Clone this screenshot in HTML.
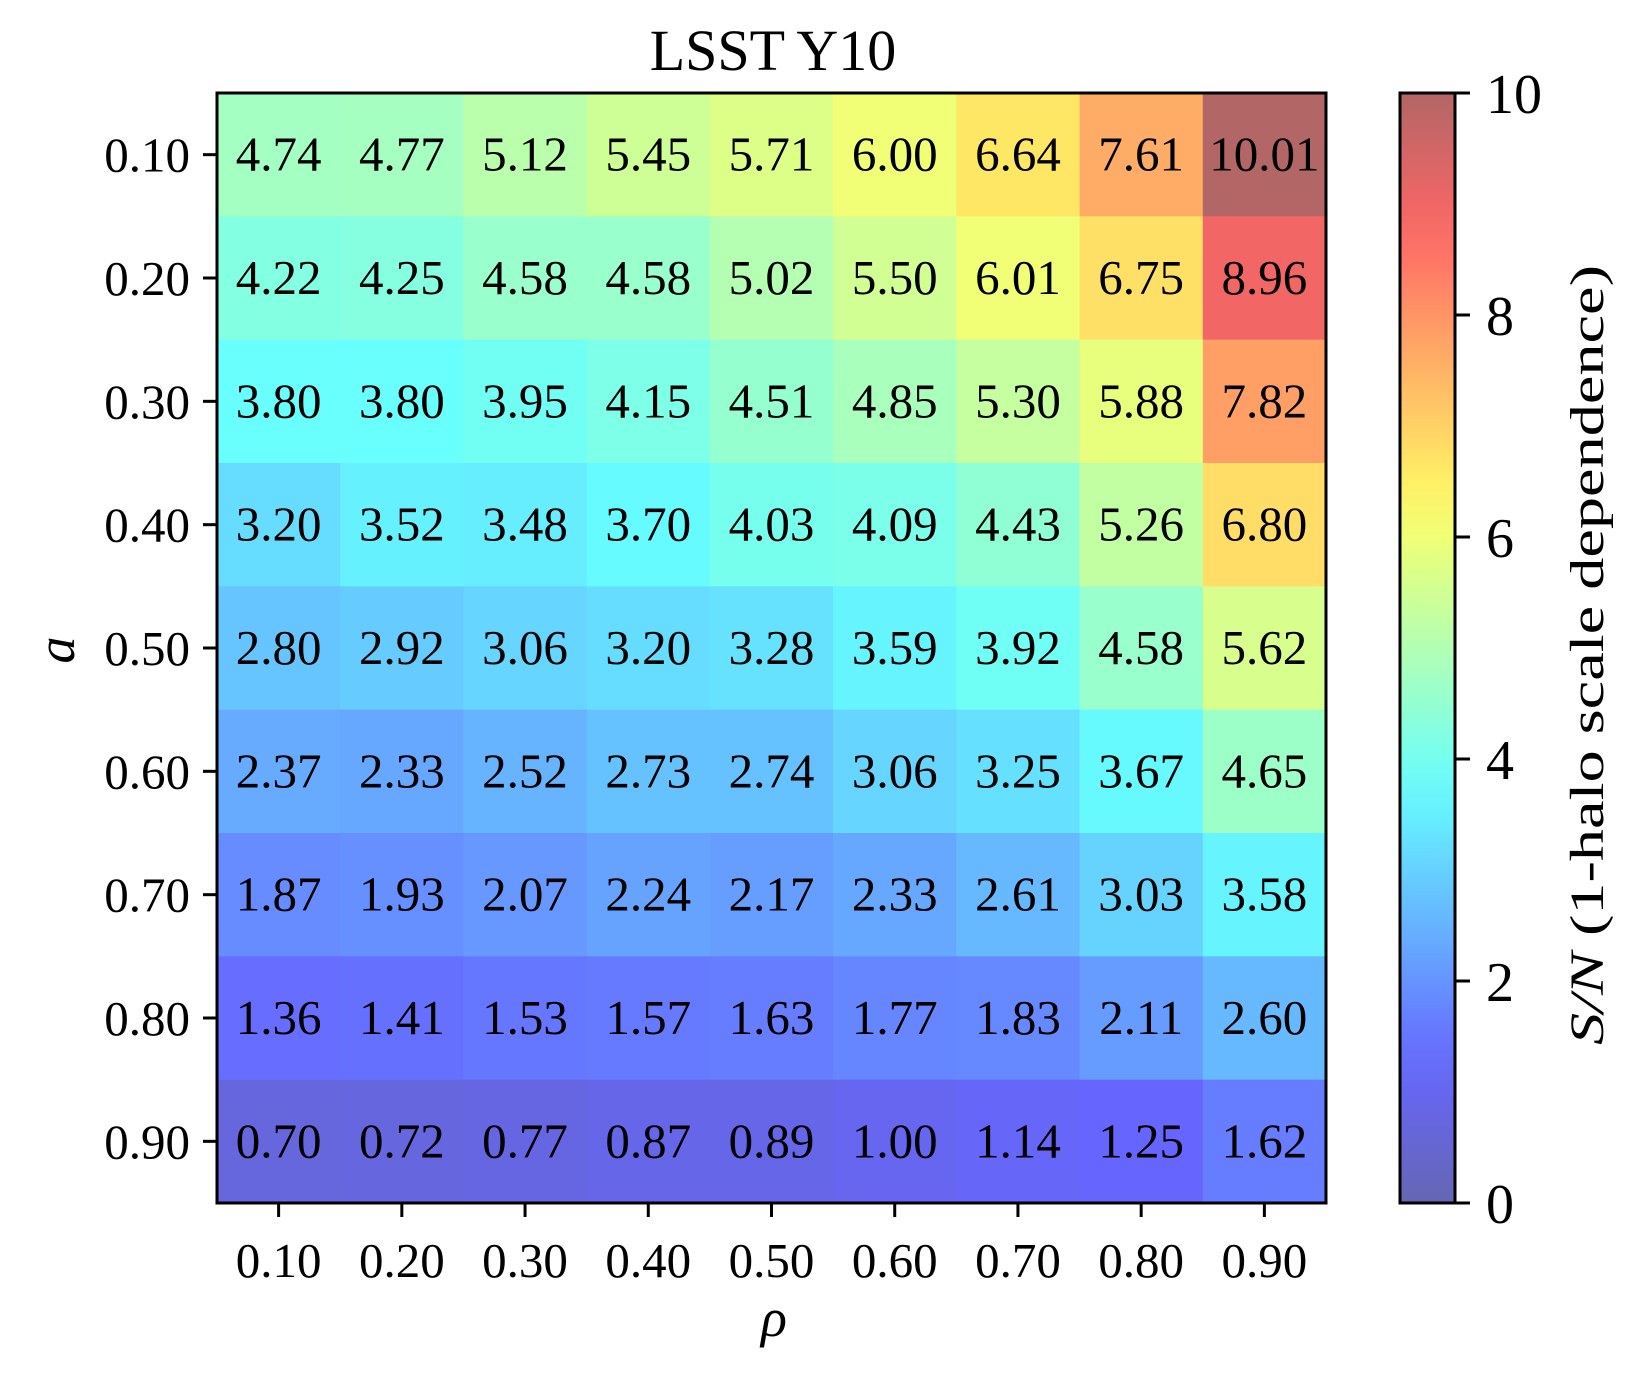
<!DOCTYPE html>
<html><head><meta charset="utf-8"><style>
html,body{margin:0;padding:0;background:#fff;}
svg text{font-family:"Liberation Serif","DejaVu Serif",serif;fill:#000;}
</style></head><body>
<svg id="chart" width="1652" height="1376" viewBox="0 0 1652 1376" xmlns="http://www.w3.org/2000/svg">
<defs><linearGradient id="cbgrad" x1="0" y1="1" x2="0" y2="0"></linearGradient></defs>
<text x="773" y="70" font-size="58" text-anchor="middle">LSST Y10</text>
<g id="cells"></g>
<g id="labels"></g>
<rect x="217" y="93" width="1109" height="1110" fill="none" stroke="#000" stroke-width="3"/>
<g id="axes"></g>
<text x="74" y="650" font-size="54" font-style="italic" text-anchor="middle" transform="rotate(-90 74 650)">a</text>
<text x="774" y="1336" font-size="54" font-style="italic" text-anchor="middle">ρ</text>
<rect x="1400" y="93" width="55" height="1110" fill="url(#cbgrad)" stroke="#000" stroke-width="3"/>
<g id="cbaxis"></g>
<text x="1603" y="655" font-size="48" text-anchor="middle" textLength="780" lengthAdjust="spacingAndGlyphs" transform="rotate(-90 1603 655)"><tspan font-style="italic">S/N</tspan> (1-halo scale dependence)</text>
</svg>
<script>
const rhoLabels = ["0.10","0.20","0.30","0.40","0.50","0.60","0.70","0.80","0.90"];
const aLabels = ["0.10","0.20","0.30","0.40","0.50","0.60","0.70","0.80","0.90"];
const row010 = [4.74,4.77,5.12,5.45,5.71,6.00,6.64,7.61,10.01];
const row020 = [4.22,4.25,4.58,4.58,5.02,5.50,6.01,6.75,8.96];
const row030 = [3.80,3.80,3.95,4.15,4.51,4.85,5.30,5.88,7.82];
const row040 = [3.20,3.52,3.48,3.70,4.03,4.09,4.43,5.26,6.80];
const row050 = [2.80,2.92,3.06,3.20,3.28,3.59,3.92,4.58,5.62];
const row060 = [2.37,2.33,2.52,2.73,2.74,3.06,3.25,3.67,4.65];
const row070 = [1.87,1.93,2.07,2.24,2.17,2.33,2.61,3.03,3.58];
const row080 = [1.36,1.41,1.53,1.57,1.63,1.77,1.83,2.11,2.60];
const row090 = [0.70,0.72,0.77,0.87,0.89,1.00,1.14,1.25,1.62];
const cbTicks = [0,2,4,6,8,10];
const rows = [row010,row020,row030,row040,row050,row060,row070,row080,row090];
const vmin = 0, vmax = 10;
const L=217,T=93,W=1109,H=1110;
const nx=rhoLabels.length, ny=aLabels.length, cw=W/nx, ch=H/ny;
const xPos=i=>L+cw*(i+0.5), yPos=j=>T+ch*(j+0.5);
const cbY=v=>T+H-(v-vmin)/(vmax-vmin)*H;
const NS="http://www.w3.org/2000/svg";
function jet(t){t=Math.max(0,Math.min(1,t));
 const f=(x)=>Math.max(0,Math.min(1,x));
 const r=f(1.5-Math.abs(4*t-3)), g=f(1.5-Math.abs(4*t-2)), b=f(1.5-Math.abs(4*t-1));
 const a=0.6;
 return `rgb(${Math.round(255*(1-a)+a*255*r)},${Math.round(255*(1-a)+a*255*g)},${Math.round(255*(1-a)+a*255*b)})`;}
function mk(tag,attrs,parent){const e=document.createElementNS(NS,tag);for(const k in attrs)e.setAttribute(k,attrs[k]);parent.appendChild(e);return e;}
const cells=document.getElementById('cells'), labels=document.getElementById('labels'), axes=document.getElementById('axes'), cba=document.getElementById('cbaxis');
rows.forEach((row,j)=>row.forEach((v,i)=>{
 const r=mk('rect',{x:L+cw*i,y:T+ch*j,width:cw+0.6,height:ch+0.6,fill:jet((v-vmin)/(vmax-vmin))},cells);
 
 
 const t=mk('text',{x:xPos(i),y:yPos(j)+16,'font-size':49,'text-anchor':'middle'},labels);
 t.textContent=v.toFixed(2);
 
 
}));
rhoLabels.forEach((s,i)=>{
 const l=mk('line',{x1:xPos(i),x2:xPos(i),y1:T+H,y2:T+H+14,stroke:'#000','stroke-width':3},axes);
 
 
 const t=mk('text',{x:xPos(i),y:1277,'font-size':49,'text-anchor':'middle'},axes);
 t.textContent=s;
 
 
});
aLabels.forEach((s,j)=>{
 const l=mk('line',{x1:L-14,x2:L,y1:yPos(j),y2:yPos(j),stroke:'#000','stroke-width':3},axes);
 
 
 const t=mk('text',{x:L-27,y:yPos(j)+17,'font-size':49,'text-anchor':'end'},axes);
 t.textContent=s;
 
 
});
const grad=document.getElementById('cbgrad');
for(let k=0;k<=20;k++){mk('stop',{offset:(k/20),'stop-color':jet(k/20)},grad);}
cbTicks.forEach(v=>{
 const l=mk('line',{x1:1455,x2:1470,y1:cbY(v),y2:cbY(v),stroke:'#000','stroke-width':3},cba);
 
 
 const t=mk('text',{x:1486,y:cbY(v)+20,'font-size':56},cba);
 t.textContent=String(v);
 
 
});
</script>
</body></html>
